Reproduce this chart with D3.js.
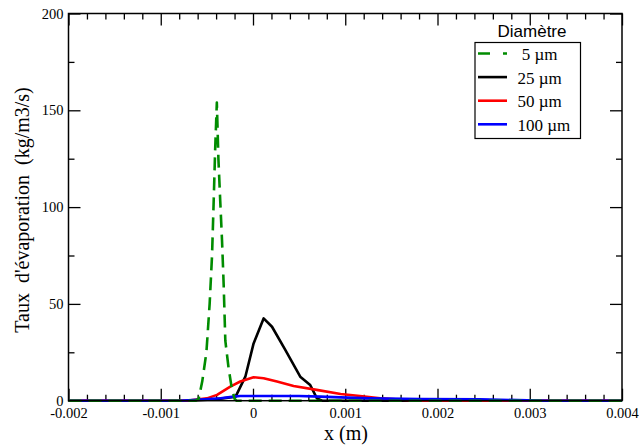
<!DOCTYPE html>
<html>
<head>
<meta charset="utf-8">
<script src="https://cdn.jsdelivr.net/npm/d3@7"></script>
<style>
  html, body { margin: 0; padding: 0; background: #fff; }
  svg text { white-space: pre; }
  svg text.serif { font-family: "Liberation Serif", "Times New Roman", Times, "DejaVu Serif", serif; }
  svg text.sans { font-family: "Liberation Sans", Arial, Helvetica, sans-serif; }
</style>
</head>
<body>
<svg id="chart" width="639" height="446"></svg>
<script>
// Evaporation rate profiles for several droplet diameters
const xMajorTicks = [-0.002, -0.001, 0, 0.001, 0.002, 0.003, 0.004];
const xTickLabels = ["-0.002", "-0.001", "0", "0.001", "0.002", "0.003", "0.004"];
const yMajorTicks = [0, 50, 100, 150, 200];
const yTickLabels = ["0", "50", "100", "150", "200"];

const legendTitle = "Diamètre";
const seriesNames = [" 5 µm", "25 µm", "50 µm", "100 µm"];

const d5X = [-0.002, -0.00062, -0.000589, -0.00055, -0.000505, -0.00047, -0.000444, -0.000425, -0.00041, -0.000392,
             -0.000375, -0.000355, -0.000336, -0.000318, -0.0003, -0.000265, -0.000232, -0.0002, -0.00018, 0.004];
const d5Y = [0, 0, 1, 10, 25, 50, 75, 105, 130, 154,
             125, 103, 83, 60, 31, 17, 7, 1, 0, 0];

const d25X = [-0.002, -0.0007, -0.00039, -0.00019, -0.000083, 0.0000065, 0.000115, 0.000206, 0.00035, 0.000512,
              0.00062, 0.000693, 0.00075, 0.004];
const d25Y = [0, 0, 0.8, 2, 12.4, 29.6, 42.5, 38.2, 26.2, 12.4,
              8.1, 1.2, 0, 0];

const d50X = [-0.002, -0.00072, -0.0005, -0.00039, -0.000246, -0.000138, 0.0000065, 0.000115, 0.00026, 0.00044,
              0.00069, 0.00095, 0.00116, 0.00138, 0.0018, 0.004];
const d50Y = [0, 0, 1.2, 3, 7.3, 9.9, 12.1, 11.6, 9.9, 7.6,
              5.6, 3.5, 2.4, 1.2, 0, 0];

const d100X = [-0.002, -0.00079, -0.00057, -0.00035, -0.00021, -0.00014, 0.0005, 0.00073, 0.00095, 0.00127,
               0.00181, 0.00246, 0.00318, 0.004];
const d100Y = [0, 0, 0.6, 1.3, 2.1, 2.4, 2.4, 2.1, 1.7, 1.2,
               0.9, 0.7, 0, 0];

const seriesColors = ["#008c00", "#000000", "#ff0000", "#0000ff"];

const svg = d3.select("#chart");
const L = 68.5, R = 622, T = 13.5, B = 400.7;

const x = d3.scaleLinear().domain([-0.002, 0.004]).range([L, R]);
const y = d3.scaleLinear().domain([0, 200]).range([B, T]);

const xMinor = d3.range(-0.002, 0.00400001, 0.0002).filter(v => !xMajorTicks.some(m => Math.abs(m - v) < 1e-9));
const yMinor = [25, 75, 125, 175];

function styleAxis(g) {
  g.attr("font-family", null);
  g.select(".domain").remove();
  g.selectAll("line").attr("stroke", "#000").attr("stroke-width", 1.3);
  g.selectAll("text").attr("class", "serif").attr("font-size", 14.5).attr("fill", "#000");
}

// bottom axis: labels, major and minor inward ticks
svg.append("g").attr("transform", `translate(0,${B})`)
  .call(d3.axisBottom(x).tickValues(xMajorTicks).tickSize(-12).tickPadding(7)
    .tickFormat((d, i) => xTickLabels[i]))
  .call(styleAxis);
svg.append("g").attr("transform", `translate(0,${B})`)
  .call(d3.axisBottom(x).tickValues(xMinor).tickSize(-6).tickFormat(""))
  .call(styleAxis);

// top axis: ticks only
svg.append("g").attr("transform", `translate(0,${T})`)
  .call(d3.axisTop(x).tickValues(xMajorTicks).tickSize(-12).tickFormat(""))
  .call(styleAxis);
svg.append("g").attr("transform", `translate(0,${T})`)
  .call(d3.axisTop(x).tickValues(xMinor).tickSize(-6).tickFormat(""))
  .call(styleAxis);

// left axis
const yAxisL = svg.append("g").attr("transform", `translate(${L},0)`)
  .call(d3.axisLeft(y).tickValues(yMajorTicks).tickSizeInner(12).tickSizeOuter(0).tickPadding(5)
    .tickFormat((d, i) => yTickLabels[i]))
  .call(styleAxis);
yAxisL.selectAll("line").attr("x2", 12);
yAxisL.selectAll("text").attr("x", -5);
svg.append("g").attr("transform", `translate(${L},0)`)
  .call(d3.axisRight(y).tickValues(yMinor).tickSize(6).tickFormat(""))
  .call(styleAxis);

// right axis: ticks only
svg.append("g").attr("transform", `translate(${R},0)`)
  .call(d3.axisLeft(y).tickValues(yMajorTicks).tickSize(12).tickFormat(""))
  .call(styleAxis);
svg.append("g").attr("transform", `translate(${R},0)`)
  .call(d3.axisLeft(y).tickValues(yMinor).tickSize(6).tickFormat(""))
  .call(styleAxis);

// series curves
const line = d3.line().x(d => x(d[0])).y(d => y(d[1]));
const series = [
  { xs: d25X, ys: d25Y, color: seriesColors[1], dash: null },
  { xs: d50X, ys: d50Y, color: seriesColors[2], dash: null },
  { xs: d100X, ys: d100Y, color: seriesColors[3], dash: null },
  { xs: d5X, ys: d5Y, color: seriesColors[0], dash: "13,7" }
];
svg.append("clipPath").attr("id", "plotclip")
  .append("rect").attr("x", L).attr("y", T - 2).attr("width", R - L).attr("height", B - T + 4);
series.forEach(s => {
  svg.append("path")
    .datum(s.xs.map((v, i) => [v, s.ys[i]]))
    .attr("d", line)
    .attr("fill", "none")
    .attr("stroke", s.color)
    .attr("stroke-width", 2.6)
    .attr("stroke-linejoin", "round")
    .attr("stroke-dasharray", s.dash)
    .attr("clip-path", "url(#plotclip)");
});

// plot frame
svg.append("rect").attr("x", L).attr("y", T).attr("width", R - L).attr("height", B - T)
  .attr("fill", "none").attr("stroke", "#000").attr("stroke-width", 1.5);

// axis titles
svg.append("text").attr("class", "serif").attr("x", 346).attr("y", 440)
  .attr("text-anchor", "middle").attr("font-size", 20)
  .text("x (m)");
svg.append("text").attr("class", "serif").attr("transform", "translate(29,210) rotate(-90)")
  .attr("text-anchor", "middle").attr("font-size", 20)
  .text("Taux  d'évaporation  (kg/m3/s)");

// legend
svg.append("text").attr("class", "sans").attr("x", 532).attr("y", 37)
  .attr("text-anchor", "middle").attr("font-size", 17)
  .text(legendTitle);
svg.append("rect").attr("x", 475).attr("y", 42.5).attr("width", 105.5).attr("height", 96)
  .attr("fill", "#fff").attr("stroke", "#000").attr("stroke-width", 1.2);
const legendDash = ["12,13,4", null, null, null];
seriesNames.forEach((name, i) => {
  const cy = 53.5 + i * 23.6;
  svg.append("line").attr("x1", 478).attr("x2", 507).attr("y1", cy).attr("y2", cy)
    .attr("stroke", seriesColors[i]).attr("stroke-width", 2.6)
    .attr("stroke-dasharray", legendDash[i]);
  svg.append("text").attr("class", "serif").attr("x", 517.5).attr("y", cy + 6.5)
    .attr("font-size", 17)
    .text(name);
});
</script>
</body>
</html>
